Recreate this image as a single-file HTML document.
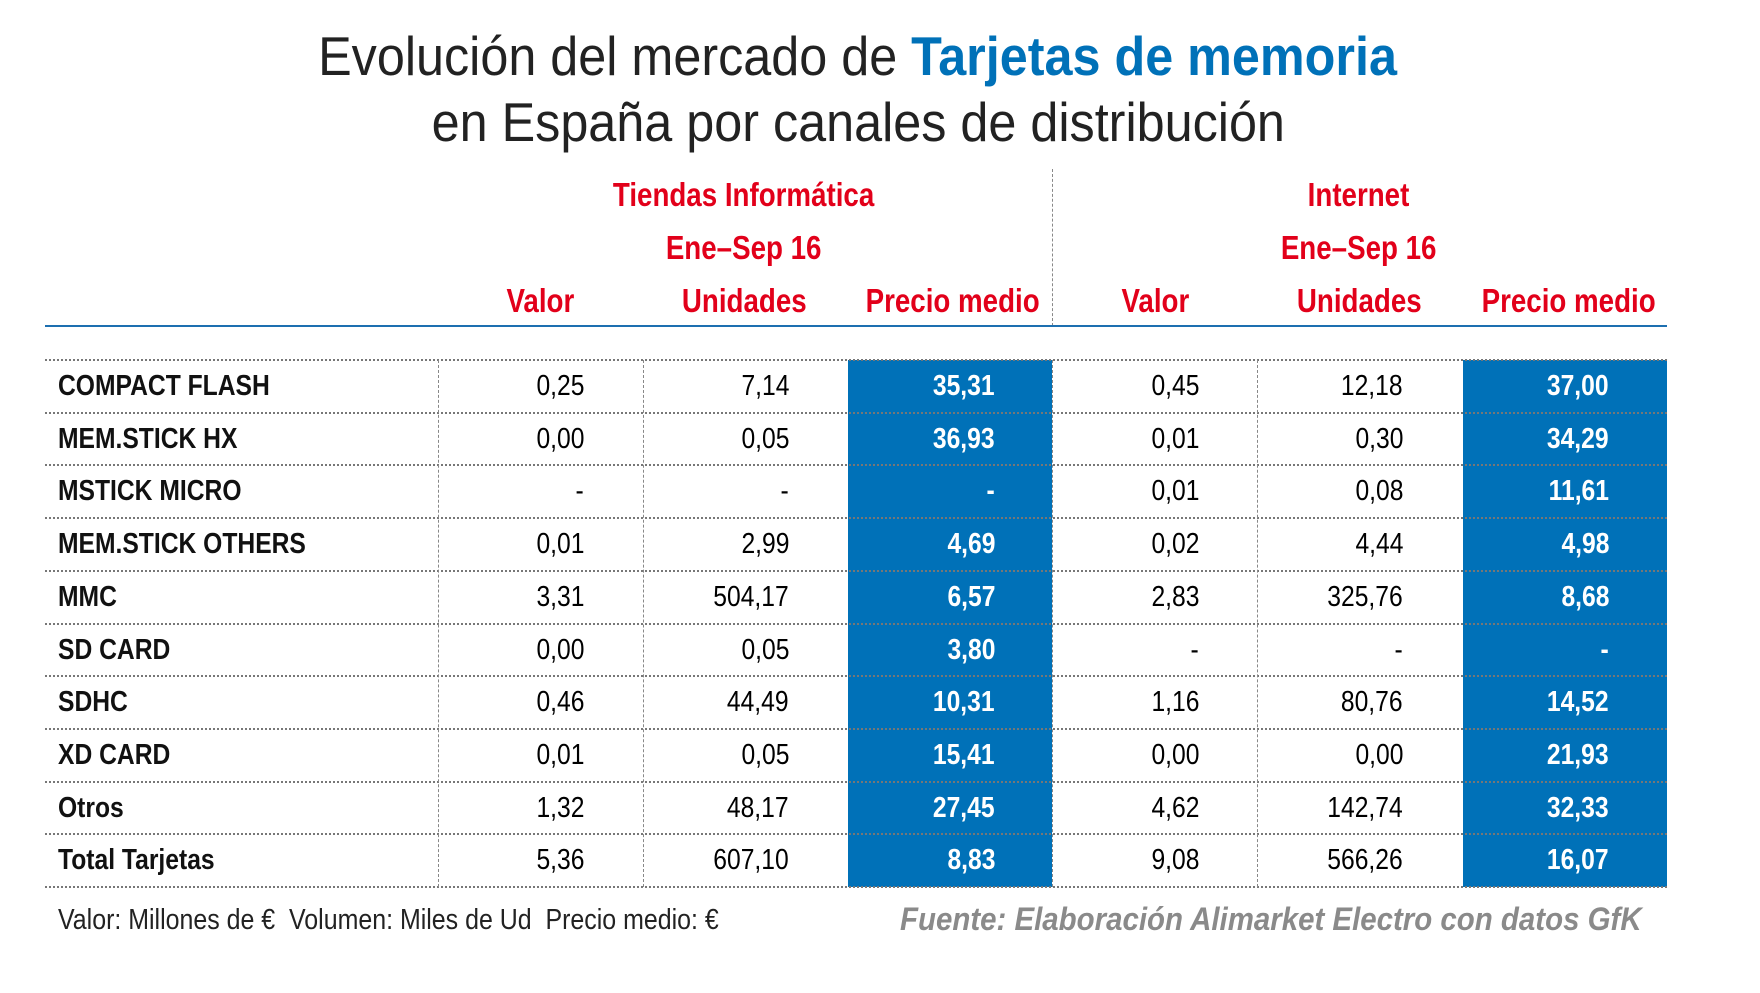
<!DOCTYPE html>
<html><head><meta charset="utf-8"><style>
body{margin:0;width:1760px;height:993px;background:#fff;position:relative;overflow:hidden;font-family:"Liberation Sans",sans-serif}
.a{position:absolute;white-space:nowrap}
.t{left:-22px;width:1760px;text-align:center;font-size:55px;color:#222;line-height:60px}
.t span.i{display:inline-block;transform:scaleX(0.915)}
.r{color:#e2001a;font-size:33px;line-height:40px;text-align:center;font-weight:bold}
.r span{display:inline-block;transform:scaleX(0.84)}
.blue{position:absolute;background:#0071b8}
.hl{position:absolute;left:45px;width:1622px;border-top:2px dotted #777;height:0}
.vl{position:absolute;border-left:1px dashed #888;width:0}
.c{position:absolute;font-size:29px;line-height:53px;text-align:right}
.c span{display:inline-block;transform:scaleX(0.85);transform-origin:right center}
.w{color:#fff;font-weight:bold}
.lab{position:absolute;left:58px;font-size:29px;line-height:53px;font-weight:bold;color:#111}
.lab span{display:inline-block;transform:scaleX(0.85);transform-origin:left center}
</style></head><body>
<div class="a t" style="top:26px"><span class="i">Evolución del mercado de <b style="color:#0071b8">Tarjetas de memoria</b></span></div>
<div class="a t" style="top:92px"><span class="i">en España por canales de distribución</span></div>

<div class="a r" style="left:544px;width:400px;top:175px"><span>Tiendas Informática</span></div>
<div class="a r" style="left:544px;width:400px;top:228px"><span>Ene–Sep 16</span></div>
<div class="a r" style="left:1159px;width:400px;top:175px"><span>Internet</span></div>
<div class="a r" style="left:1159px;width:400px;top:228px"><span>Ene–Sep 16</span></div>
<div class="a r" style="left:440px;width:200px;top:281px"><span>Valor</span></div>
<div class="a r" style="left:644px;width:200px;top:281px"><span>Unidades</span></div>
<div class="a r" style="left:849px;width:200px;top:281px"><span>Precio medio</span></div>
<div class="a r" style="left:1055px;width:200px;top:281px"><span>Valor</span></div>
<div class="a r" style="left:1259px;width:200px;top:281px"><span>Unidades</span></div>
<div class="a r" style="left:1465px;width:200px;top:281px"><span>Precio medio</span></div>
<div class="vl" style="left:1052px;top:169px;height:157px"></div>
<div class="a" style="left:45px;width:1622px;top:325px;height:2px;background:#1d6fb0"></div>

<div class="blue" style="left:848px;width:204px;top:360px;height:527px"></div>
<div class="blue" style="left:1463px;width:204px;top:360px;height:527px"></div>

<div id="lines"></div>
<div class="vl" style="left:438px;top:360px;height:527px"></div>
<div class="vl" style="left:643px;top:360px;height:527px"></div>
<div class="vl" style="left:1052px;top:360px;height:527px"></div>
<div class="vl" style="left:1257px;top:360px;height:527px"></div>

<div id="rows"></div>
<script>
var d=[["COMPACT FLASH","0,25","7,14","35,31","0,45","12,18","37,00"],
["MEM.STICK HX","0,00","0,05","36,93","0,01","0,30","34,29"],
["MSTICK MICRO","-","-","-","0,01","0,08","11,61"],
["MEM.STICK OTHERS","0,01","2,99","4,69","0,02","4,44","4,98"],
["MMC","3,31","504,17","6,57","2,83","325,76","8,68"],
["SD CARD","0,00","0,05","3,80","-","-","-"],
["SDHC","0,46","44,49","10,31","1,16","80,76","14,52"],
["XD CARD","0,01","0,05","15,41","0,00","0,00","21,93"],
["Otros","1,32","48,17","27,45","4,62","142,74","32,33"],
["Total Tarjetas","5,36","607,10","8,83","9,08","566,26","16,07"]];
var rx=[584,789,995,1199,1403,1609],h="",l="";
for(var k=0;k<11;k++){l+='<div class="hl" style="top:'+(359+k*52.7)+'px"></div>';}
document.getElementById("lines").innerHTML=l;
d.forEach(function(r,i){var t=360+i*52.7;
h+='<div class="lab" style="top:'+t+'px"><span>'+r[0]+'</span></div>';
for(var j=1;j<7;j++){var x=rx[j-1];var w=(j==3||j==6)?' w':'';
h+='<div class="c'+w+'" style="top:'+t+'px;left:'+(x-200)+'px;width:200px"><span>'+r[j]+'</span></div>';}});
document.getElementById("rows").innerHTML=h;
</script>

<div class="a" style="left:58px;top:900px;font-size:29px;line-height:40px;color:#222"><span style="display:inline-block;transform:scaleX(0.86);transform-origin:left center">Valor: Millones de €&nbsp; Volumen: Miles de Ud&nbsp; Precio medio: €</span></div>
<div class="a" style="left:900px;top:899px;font-size:32px;line-height:40px;color:#8a8a8a;font-style:italic;font-weight:bold"><span style="display:inline-block;transform:scaleX(0.92);transform-origin:left center">Fuente: Elaboración Alimarket Electro con datos GfK</span></div>
</body></html>
